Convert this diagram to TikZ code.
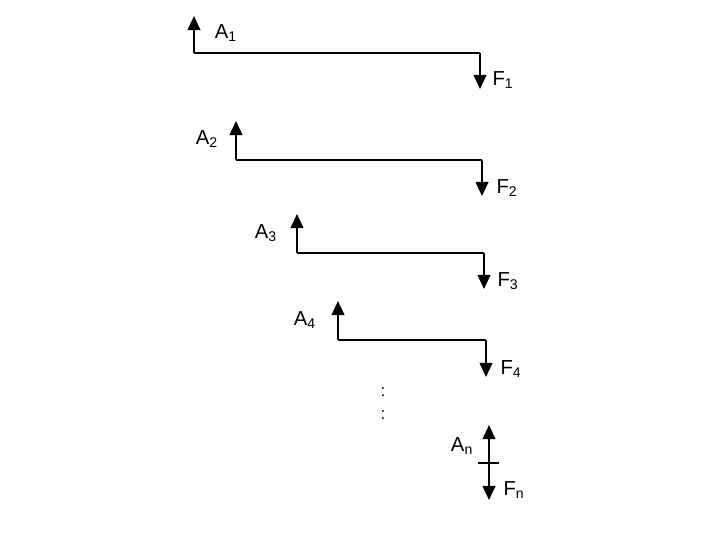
\documentclass[tikz,border=0pt]{standalone}
\usepackage{fontspec}
\setmainfont{Liberation Sans}
\usetikzlibrary{arrows.meta, positioning}

\begin{document}
\begin{tikzpicture}[
    x=0.025cm, y=-0.025cm,
    force/.style={-{Triangle[length=10pt, width=9pt]}, line width=1.5pt},
    beam/.style={line width=1.1pt},
    lbl/.style={font=\Large, inner sep=1pt},
    ]
    \useasboundingbox (0,0) rectangle (720,540);

    % Nodes
    \coordinate (a1) at (194,53);  \coordinate (a1t) at (194,16);
    \coordinate (f1) at (480,53);  \coordinate (f1t) at (480,89);
    \coordinate (a2) at (236,160); \coordinate (a2t) at (236,121);
    \coordinate (f2) at (482,160); \coordinate (f2t) at (482,196);
    \coordinate (a3) at (297,253); \coordinate (a3t) at (297,214);
    \coordinate (f3) at (484,253); \coordinate (f3t) at (484,289);
    \coordinate (a4) at (338,340); \coordinate (a4t) at (338,301);
    \coordinate (f4) at (486,340); \coordinate (f4t) at (486,377);
    \coordinate (an) at (489,463); \coordinate (ant) at (489,425);
    \coordinate (fnt) at (489,500);
    \coordinate (tl) at (478,463); \coordinate (tr) at (499,463);

    \node[lbl] (la1) at (226,33) {A\textsubscript{1}};
    \node[lbl] (lf1) at (503,80) {F\textsubscript{1}};
    \node[lbl] (la2) at (207,139) {A\textsubscript{2}};
    \node[lbl] (lf2) at (507,188) {F\textsubscript{2}};
    \node[lbl] (la3) at (266,233) {A\textsubscript{3}};
    \node[lbl] (lf3) at (508,281) {F\textsubscript{3}};
    \node[lbl] (la4) at (305,320) {A\textsubscript{4}};
    \node[lbl] (lf4) at (511,369) {F\textsubscript{4}};
    \node[lbl] (lan) at (462,446) {A\textsubscript{n}};
    \node[lbl] (lfn) at (514,490) {F\textsubscript{n}};
    \node (dots1) at (383,392) {\large :};
    \node (dots2) at (383,415) {\large :};

    % Edges
    \draw[force] (a1) -- (a1t);
    \draw[beam] (a1) -- (f1);
    \draw[force] (f1) -- (f1t);
    \draw[force] (a2) -- (a2t);
    \draw[beam] (a2) -- (f2);
    \draw[force] (f2) -- (f2t);
    \draw[force] (a3) -- (a3t);
    \draw[beam] (a3) -- (f3);
    \draw[force] (f3) -- (f3t);
    \draw[force] (a4) -- (a4t);
    \draw[beam] (a4) -- (f4);
    \draw[force] (f4) -- (f4t);
    \draw[force] (an) -- (ant);
    \draw[beam] (tl) -- (tr);
    \draw[force] (an) -- (fnt);
\end{tikzpicture}
\end{document}
